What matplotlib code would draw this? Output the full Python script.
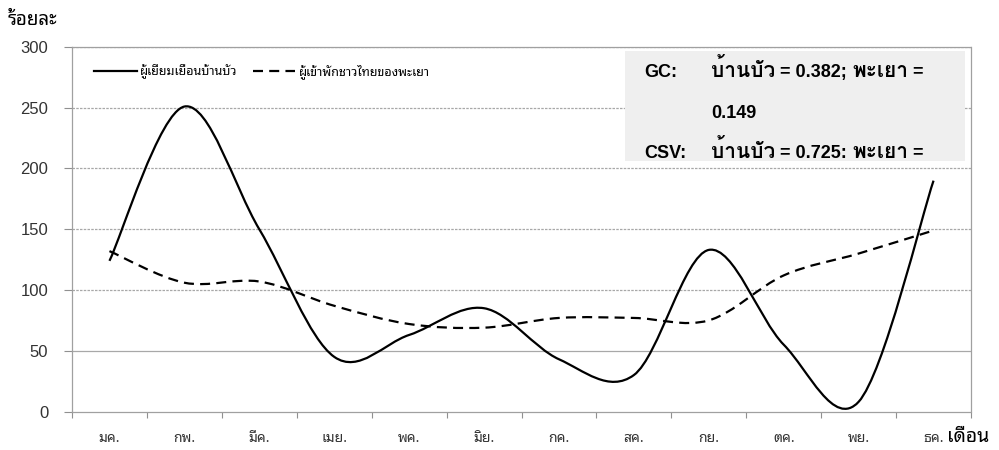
import numpy as np
import matplotlib
matplotlib.use("Agg")
import matplotlib.pyplot as plt
from matplotlib.path import Path
from matplotlib.patches import PathPatch, Rectangle
from matplotlib.lines import Line2D
from matplotlib.transforms import Bbox, TransformedBbox

THAI = ['Noto Sans Thai Looped', 'Loma', 'DejaVu Sans']
THAI_B = ['Loma', 'Noto Sans Thai', 'DejaVu Sans']
MIX = ['Liberation Sans', 'Noto Sans Thai Looped', 'DejaVu Sans']

months = ['มค.', 'กพ.', 'มีค.', 'เมย.', 'พค.', 'มิย.', 'กค.', 'สค.', 'กย.', 'ตค.', 'พย.', 'ธค.']
banbua = [124, 251, 150, 45, 63, 85, 43, 30, 133, 55, 8, 190]
phayao = [132, 106, 107, 87, 72, 69, 77, 77, 75, 112, 130, 149]
yticks = [0, 50, 100, 150, 200, 250, 300]

label_banbua = 'ผู้เยี่ยมเยือนบ้านบัว'
label_phayao = 'ผู้เข้าพักชาวไทยของพะเยา'
name_banbua = 'บ้านบัว'
name_phayao = 'พะเยา'
gc_banbua, gc_phayao = '0.382', '0.149'
csv_banbua = '0.725'


def smooth_path(xs, ys):
    # excel-like smoothed line: bezier segments through the points
    pts = np.column_stack([xs, ys]).astype(float)
    ext = np.vstack([pts[0], pts, pts[-1]])
    verts = [pts[0]]
    codes = [Path.MOVETO]
    for i in range(len(pts) - 1):
        p0, p1, p2, p3 = ext[i], ext[i + 1], ext[i + 2], ext[i + 3]
        verts += [p1 + (p2 - p0) / 6, p2 - (p3 - p1) / 6, p2]
        codes += [Path.CURVE4] * 3
    return Path(verts, codes)


W, H = 999, 450
fx = lambda px: px / W
fy = lambda py: 1 - py / H

fig = plt.figure(figsize=(9.99, 4.5), dpi=100)
ax = fig.add_axes([fx(72), fy(411.5), fx(971) - fx(72), fy(47) - fy(411.5)])

xs = np.arange(len(months)) + 0.5
ax.set_xlim(0, len(months))
ax.set_ylim(0, 300)

for v in yticks[1:]:
    ax.axhline(v, color='#a8a8a8', lw=0.9,
               ls='-' if v == 50 else (0, (2, 1)), zorder=1)

dash = (0, (4.5, 2.8))
ax.add_patch(PathPatch(smooth_path(xs, banbua), fill=False, color='black',
                       lw=1.6, zorder=4, capstyle='butt'))
ax.add_patch(PathPatch(smooth_path(xs, phayao), fill=False, color='black',
                       lw=1.6, ls=dash, zorder=4, capstyle='butt'))

for s in ax.spines.values():
    s.set_color('#a0a0a0')
    s.set_linewidth(0.9)
    s.set_linestyle((0, (2, 1)))

ax.set_yticks(yticks)
ax.set_xticks(np.arange(len(months) + 1))
ax.set_xticklabels([])
ax.set_xticks(xs, minor=True)
ax.set_xticklabels(months, minor=True, family=THAI, fontsize=10, color='#333333')
ax.tick_params(axis='x', which='minor', length=0, pad=14)
ax.tick_params(axis='x', which='major', length=4, color='#909090', direction='out')
ax.tick_params(axis='y', length=6, color='#909090', direction='out', pad=11,
               labelsize=12, labelcolor='#333333')
for t in ax.get_yticklabels():
    t.set_family(MIX)

handles = [Line2D([], [], color='black', lw=1.6),
           Line2D([], [], color='black', lw=1.6, ls=dash)]
leg = ax.legend(handles, [label_banbua, label_phayao], ncol=2, frameon=False,
                loc='upper left', bbox_to_anchor=(fx(94), fy(64)),
                bbox_transform=fig.transFigure, borderpad=0, borderaxespad=0,
                handlelength=3.4, handletextpad=0.3, columnspacing=1.2,
                prop={'family': THAI, 'size': 9})

# statistics box (text runs past the bottom of the box and is cut off)
box = Rectangle((fx(625), fy(161)), fx(965) - fx(625), fy(51) - fy(161),
                transform=fig.transFigure, facecolor='#efefef', edgecolor='none',
                zorder=3)
ax.add_patch(box)
clip = TransformedBbox(Bbox([[fx(625), fy(161)], [fx(965), fy(51)]]), fig.transFigure)

latin = dict(fontsize=13, fontweight='bold', family='Liberation Sans')
thai = dict(fontsize=15, fontweight='bold', family=THAI_B)


def text_run(px, py, pieces):
    # pieces placed one after another on the same baseline
    prev = None
    for s, style in pieces:
        if prev is None:
            t = fig.text(fx(px), fy(py), s, va='baseline', ha='left', zorder=5, **style)
        else:
            t = ax.annotate(s, xy=(1, fy(py)), xycoords=(prev, fig.transFigure),
                            va='baseline', ha='left', zorder=5,
                            annotation_clip=False, **style)
        t.set_clip_box(clip)
        t.set_clip_on(True)
        prev = t


text_run(644, 77, [('GC:', latin)])
text_run(711, 77, [(name_banbua, thai), (' = ' + gc_banbua + '; ', latin),
                   (name_phayao, thai), (' =', latin)])
text_run(711, 118, [(gc_phayao, latin)])
text_run(644, 158, [('CSV:', latin)])
text_run(711, 158, [(name_banbua, thai), (' = ' + csv_banbua + ': ', latin),
                    (name_phayao, thai), (' =', latin)])

fig.text(fx(8), fy(20), 'ร้อยละ', family=THAI, fontsize=13.5, va='center', ha='left')
fig.text(fx(947), fy(437), 'เดือน', family=THAI, fontsize=14, va='center', ha='left')

fig.savefig('out.png', dpi=100)
